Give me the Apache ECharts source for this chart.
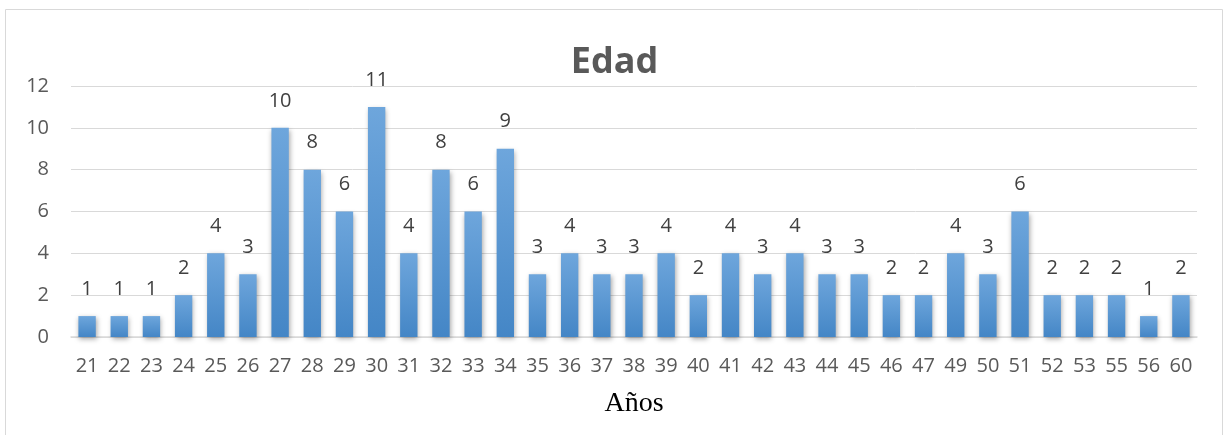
<!DOCTYPE html>
<html><head><meta charset="utf-8">
<script src="https://cdn.jsdelivr.net/npm/echarts@6/dist/echarts.min.js"></script>
<style>html,body{margin:0;padding:0;background:#fff}#c{width:1229px;height:435px}</style>
</head><body><div id="c"></div>
<script>
const categories = ['21','22','23','24','25','26','27','28','29','30','31','32','33','34','35','36','37','38','39','40','41','42','43','44','45','46','47','49','50','51','52','53','55','56','60'];
const values = [1,1,1,2,4,3,10,8,6,11,4,8,6,9,3,4,3,3,4,2,4,3,4,3,3,2,2,4,3,6,2,2,2,1,2];
const yTicks = [0,2,4,6,8,10,12];
const titleText = 'Edad';
const xName = 'Años';

const chart = echarts.init(document.getElementById('c'));
const font = '"Open Sans", "Noto Sans", sans-serif';
chart.setOption({
  animation: false,
  graphic: [{type:'rect', shape:{x:5.5,y:9.5,width:1217,height:440}, style:{fill:'none', stroke:'#d9d9d9', lineWidth:1}}],
  title: {text: titleText, left: 'center', top: 40, textStyle:{fontFamily: font, fontSize: 36, fontWeight: 'bold', color:'#595959'}},
  grid: {left: 71, right: 32, top: 86, bottom: 98},
  xAxis: {
    type: 'category', data: categories,
    name: xName, nameLocation: 'middle', nameGap: 53,
    nameTextStyle: {fontFamily: '"Liberation Serif", "DejaVu Serif", serif', fontSize: 28, color: '#000'},
    axisLine: {lineStyle: {color: '#d9d9d9', width: 1.5}},
    axisTick: {show: false},
    axisLabel: {fontFamily: font, fontSize: 20, color: '#595959', margin: 19, interval: 0}
  },
  yAxis: {
    type: 'value', min: 0, max: yTicks[yTicks.length-1], interval: 2,
    axisLabel: {fontFamily: font, fontSize: 20, color: '#595959', margin: 22},
    splitLine: {lineStyle: {color: '#d9d9d9'}},
    axisLine: {show: false}, axisTick: {show: false}
  },
  series: [{
    type: 'bar', data: values, barWidth: '54%',
    itemStyle: {
      color: new echarts.graphic.LinearGradient(0,0,0,1,[{offset:0,color:'#6ea6dc'},{offset:1,color:'#4486c6'}]),
      shadowColor: 'rgba(0,0,0,0.35)', shadowBlur: 5, shadowOffsetX: 1, shadowOffsetY: 2
    },
    label: {show: true, position: 'top', distance: 17, fontFamily: font, fontSize: 20, color: '#404040'}
  }]
});
</script></body></html>
